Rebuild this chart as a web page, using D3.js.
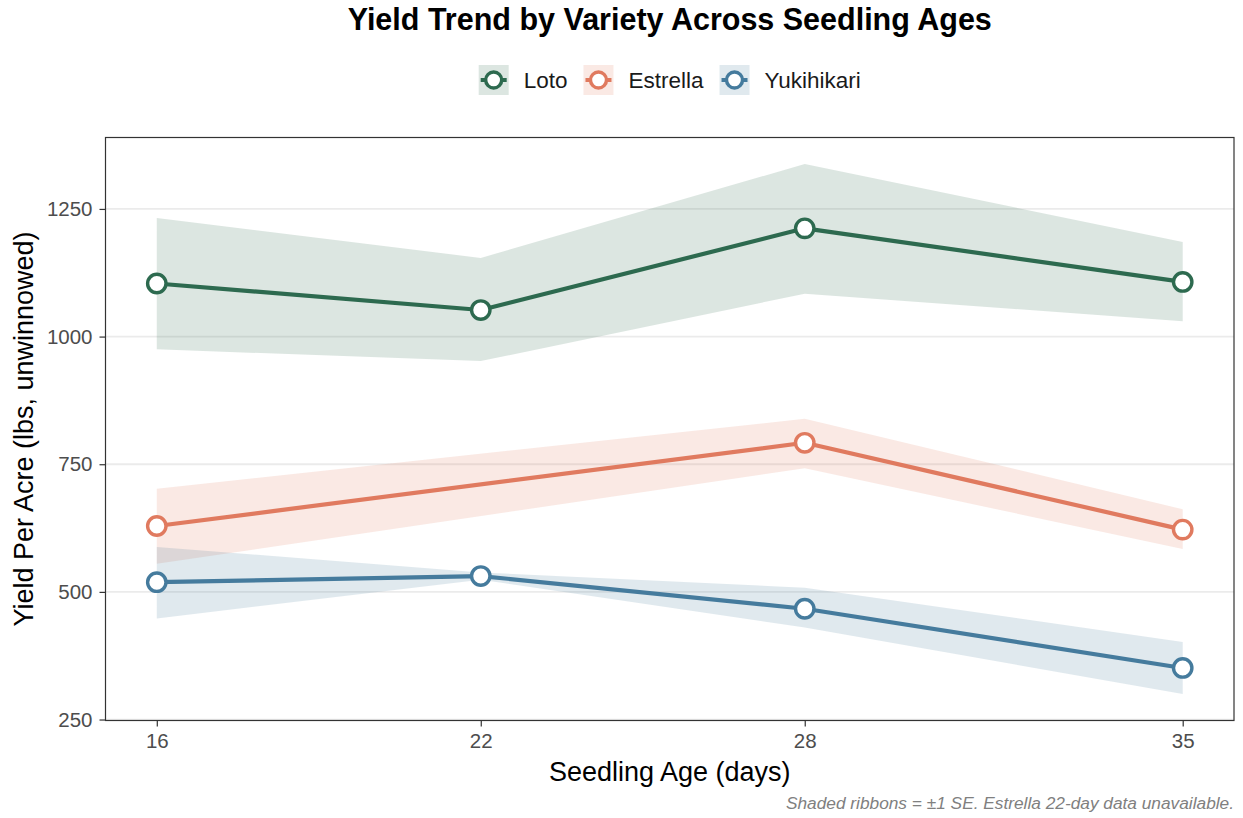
<!DOCTYPE html>
<html>
<head>
<meta charset="utf-8">
<script src="https://cdn.jsdelivr.net/npm/d3@7"></script>
<style>
  html, body { margin: 0; padding: 0; background: #fff; }
  svg { display: block; font-family: "Liberation Sans", Arial, sans-serif; }
</style>
</head>
<body>
<svg id="chart" width="1243" height="818"></svg>
<script>
// ---- Data ----
const varieties = ["Loto", "Estrella", "Yukihikari"];
const colors = ["#2D6A4F", "#E07A5F", "#457B9D"];

const lotoAges  = [16, 22, 28, 35];
const lotoYield = [1104, 1052, 1212, 1107];
const lotoLow   = [975, 952, 1084, 1030];
const lotoHigh  = [1232, 1154, 1338, 1185];

const estrellaAges  = [16, 28, 35];
const estrellaYield = [629, 792, 622];
const estrellaLow   = [555, 742, 584];
const estrellaHigh  = [702, 839, 662];

const yukiAges  = [16, 22, 28, 35];
const yukiYield = [519, 531, 467, 351];
const yukiLow   = [448, 524, 430, 300];
const yukiHigh  = [588, 538, 508, 402];

const xTicks = [16, 22, 28, 35];
const yTicks = [250, 500, 750, 1000, 1250];

const titleText = "Yield Trend by Variety Across Seedling Ages";
const xTitle = "Seedling Age (days)";
const yTitle = "Yield Per Acre (lbs, unwinnowed)";
const caption = "Shaded ribbons = \u00b11 SE. Estrella 22-day data unavailable.";

function build(ages, y, lo, hi) {
  return ages.map((a, i) => ({ age: a, y: y[i], lo: lo[i], hi: hi[i] }));
}
const series = [
  { name: varieties[0], color: colors[0], data: build(lotoAges, lotoYield, lotoLow, lotoHigh) },
  { name: varieties[1], color: colors[1], data: build(estrellaAges, estrellaYield, estrellaLow, estrellaHigh) },
  { name: varieties[2], color: colors[2], data: build(yukiAges, yukiYield, yukiLow, yukiHigh) }
];

// ---- Layout ----
const svg = d3.select("#chart");
const P = { left: 105.5, right: 1234, top: 137.5, bottom: 720.5 };

const allX = series.flatMap(s => s.data.map(d => d.age));
const allY = series.flatMap(s => s.data.flatMap(d => [d.lo, d.hi]));
const xmin = d3.min(allX), xmax = d3.max(allX);
const ymin = d3.min(allY), ymax = d3.max(allY);
const xpad = (xmax - xmin) * 0.05, ypad = (ymax - ymin) * 0.05;

const x = d3.scaleLinear().domain([xmin - xpad, xmax + xpad]).range([P.left, P.right]);
const y = d3.scaleLinear().domain([ymin - ypad, ymax + ypad]).range([P.bottom, P.top]);

// gridlines
svg.append("g").selectAll("line").data(yTicks).join("line")
  .attr("x1", P.left).attr("x2", P.right)
  .attr("y1", d => y(d)).attr("y2", d => y(d))
  .attr("stroke", "#ebebeb").attr("stroke-width", 1.8);

// ribbons
const area = d3.area().x(d => x(d.age)).y0(d => y(d.lo)).y1(d => y(d.hi));
svg.append("g").selectAll("path").data(series).join("path")
  .attr("d", s => area(s.data))
  .attr("fill", s => s.color).attr("fill-opacity", 0.17);

// lines
const line = d3.line().x(d => x(d.age)).y(d => y(d.y));
svg.append("g").selectAll("path").data(series).join("path")
  .attr("d", s => line(s.data))
  .attr("fill", "none").attr("stroke", s => s.color)
  .attr("stroke-width", 4.2).attr("stroke-linejoin", "round");

// points
series.forEach(s => {
  svg.append("g").selectAll("circle").data(s.data).join("circle")
    .attr("cx", d => x(d.age)).attr("cy", d => y(d.y))
    .attr("r", 9.2).attr("fill", "#fff")
    .attr("stroke", s.color).attr("stroke-width", 3.4);
});

// panel border
svg.append("rect")
  .attr("x", P.left).attr("y", P.top)
  .attr("width", P.right - P.left).attr("height", P.bottom - P.top)
  .attr("fill", "none").attr("stroke", "#333").attr("stroke-width", 1.2);

// axes
const yAxis = svg.append("g").attr("transform", `translate(${P.left},0)`)
  .call(d3.axisLeft(y).tickValues(yTicks).tickFormat(d3.format("d")).tickSize(6).tickPadding(7));
const xAxis = svg.append("g").attr("transform", `translate(0,${P.bottom})`)
  .call(d3.axisBottom(x).tickValues(xTicks).tickFormat(d3.format("d")).tickSize(6).tickPadding(7));
[yAxis, xAxis].forEach(g => {
  g.select(".domain").remove();
  g.selectAll(".tick line").attr("stroke", "#333").attr("stroke-width", 1.2);
  g.selectAll(".tick text").attr("fill", "#4d4d4d")
    .style("font-size", "20.5px").style("font-family", "'Liberation Sans', Arial, sans-serif");
});

// titles
const cx = (P.left + P.right) / 2;
svg.append("text").attr("x", cx).attr("y", 30)
  .attr("text-anchor", "middle").attr("font-weight", "bold")
  .attr("font-size", 30.5).attr("fill", "#000").text(titleText);

svg.append("text").attr("x", cx).attr("y", 781)
  .attr("text-anchor", "middle").attr("font-size", 27).attr("fill", "#000").text(xTitle);

svg.append("text")
  .attr("transform", `translate(33,${(P.top + P.bottom) / 2}) rotate(-90)`)
  .attr("text-anchor", "middle").attr("font-size", 27).attr("fill", "#000").text(yTitle);

svg.append("text").attr("x", 1234).attr("y", 809)
  .attr("text-anchor", "end").attr("font-style", "italic")
  .attr("font-size", 17.3).attr("fill", "#808080").text(caption);

// legend
const legend = svg.append("g");
const keySize = 30, gapText = 15, gapItem = 16, legFont = 22.5;
const items = legend.selectAll("g").data(series).join("g");
items.each(function (s) {
  const g = d3.select(this);
  g.append("rect").attr("width", keySize).attr("height", keySize)
    .attr("fill", s.color).attr("fill-opacity", 0.17);
  g.append("line").attr("x1", 2).attr("x2", keySize - 2)
    .attr("y1", keySize / 2).attr("y2", keySize / 2)
    .attr("stroke", s.color).attr("stroke-width", 4);
  g.append("circle").attr("cx", keySize / 2).attr("cy", keySize / 2).attr("r", 8)
    .attr("fill", "#fff").attr("stroke", s.color).attr("stroke-width", 3.4);
  g.append("text").attr("x", keySize + gapText).attr("y", keySize / 2 + legFont * 0.35)
    .attr("font-size", legFont).attr("fill", "#1a1a1a").text(s.name);
});
let widths = [];
items.each(function () {
  widths.push(d3.select(this).select("text").node().getComputedTextLength() + keySize + gapText);
});
const total = d3.sum(widths) + gapItem * (widths.length - 1);
let cursor = cx - total / 2;
items.attr("transform", (s, i) => {
  const t = `translate(${cursor},65)`;
  cursor += widths[i] + gapItem;
  return t;
});
</script>
</body>
</html>
